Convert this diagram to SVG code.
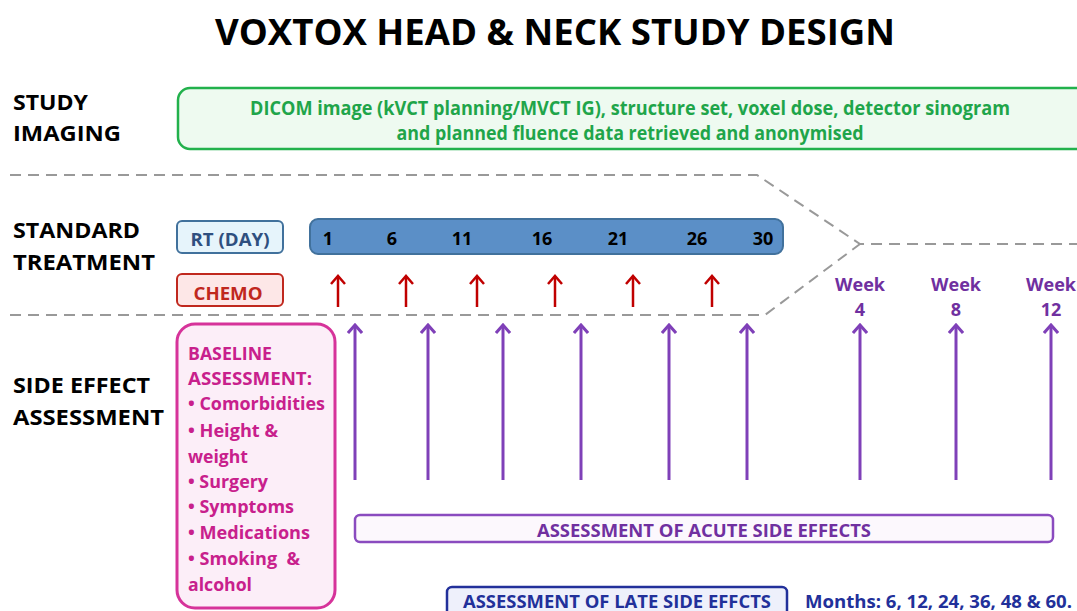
<svg xmlns="http://www.w3.org/2000/svg" width="1077" height="611" viewBox="0 0 1077 611">
<style>
text{font-family:"Open Sans",Lato,"Liberation Sans",sans-serif;font-weight:bold}
.title{font-size:36px;fill:#000}
.sec{font-size:22px;fill:#000}
.green{font-size:19px;fill:#1fa54a}
.dash{fill:none;stroke:#999;stroke-width:2;stroke-dasharray:11 7}
.num{font-size:18px;fill:#000}
.red{stroke:#c00000;stroke-width:2.5;fill:none}
.pur{stroke:#7f40b8;stroke-width:3;fill:none}
.week{font-size:18px;fill:#7030a0}
.base{font-size:18px;fill:#c8208c}
</style>
<defs>
<marker id="ra" markerUnits="userSpaceOnUse" viewBox="0 0 12 16" refX="10" refY="8" markerWidth="12" markerHeight="16" orient="auto">
<path d="M2,1 L10,8 L2,15" fill="none" stroke="#c00000" stroke-width="2.5"/>
</marker>
<marker id="pa" markerUnits="userSpaceOnUse" viewBox="0 0 12 16" refX="10" refY="8" markerWidth="12" markerHeight="16" orient="auto">
<path d="M2,1 L10,8 L2,15" fill="none" stroke="#7f40b8" stroke-width="3"/>
</marker>
</defs>
<rect width="1077" height="611" fill="#fff"/>
<text class="title" x="555" y="45" text-anchor="middle" textLength="680" lengthAdjust="spacingAndGlyphs">VOXTOX HEAD &amp; NECK STUDY DESIGN</text>

<g id="labels">
<text class="sec" x="13" y="110" textLength="75" lengthAdjust="spacingAndGlyphs">STUDY</text>
<text class="sec" x="13" y="141" textLength="108" lengthAdjust="spacingAndGlyphs">IMAGING</text>
<text class="sec" x="13" y="238" textLength="127" lengthAdjust="spacingAndGlyphs">STANDARD</text>
<text class="sec" x="13" y="270" textLength="142" lengthAdjust="spacingAndGlyphs">TREATMENT</text>
<text class="sec" x="13" y="393" textLength="137" lengthAdjust="spacingAndGlyphs">SIDE EFFECT</text>
<text class="sec" x="13" y="425" textLength="151" lengthAdjust="spacingAndGlyphs">ASSESSMENT</text>
</g>

<g id="imaging">
<rect x="178" y="88" width="920" height="61" rx="12" fill="#eefaf0" stroke="#22b14c" stroke-width="2.5"/>
<text class="green" x="630" y="115" text-anchor="middle" textLength="760" lengthAdjust="spacingAndGlyphs">DICOM image (kVCT planning/MVCT IG), structure set, voxel dose, detector sinogram</text>
<text class="green" x="630" y="140" text-anchor="middle" textLength="467" lengthAdjust="spacingAndGlyphs">and planned fluence data retrieved and anonymised</text>
</g>

<g id="dividers">
<path class="dash" d="M10,175 L757,175 L860,244 L1077,244"/>
<path class="dash" d="M10,315 L765,315 L860,244"/>
</g>

<g id="rt-label">
<rect x="177" y="221" width="106" height="32" rx="5" fill="#e6f4fb" stroke="#41719c" stroke-width="2"/>
<text x="230" y="246" text-anchor="middle" font-size="18" fill="#2f4f7f" textLength="79" lengthAdjust="spacingAndGlyphs">RT (DAY)</text>
</g>

<g id="rt-bar">
<rect x="310" y="219" width="473" height="35" rx="8" fill="#5b8fc7" stroke="#41719c" stroke-width="2"/>
<text class="num" x="328" y="245" text-anchor="middle">1</text>
<text class="num" x="392" y="245" text-anchor="middle">6</text>
<text class="num" x="462" y="245" text-anchor="middle">11</text>
<text class="num" x="542" y="245" text-anchor="middle">16</text>
<text class="num" x="618" y="245" text-anchor="middle">21</text>
<text class="num" x="697" y="245" text-anchor="middle">26</text>
<text class="num" x="763" y="245" text-anchor="middle">30</text>
</g>

<g id="chemo">
<rect x="177" y="274" width="106" height="32" rx="5" fill="#fde7e7" stroke="#c0281e" stroke-width="2"/>
<text x="228" y="300" text-anchor="middle" font-size="18" fill="#c0281e" textLength="69" lengthAdjust="spacingAndGlyphs">CHEMO</text>
</g>

<g id="weeks">
<text class="week" x="860" y="291" text-anchor="middle" textLength="50" lengthAdjust="spacingAndGlyphs">Week</text>
<text class="week" x="860" y="316" text-anchor="middle">4</text>
<text class="week" x="956" y="291" text-anchor="middle" textLength="50" lengthAdjust="spacingAndGlyphs">Week</text>
<text class="week" x="956" y="316" text-anchor="middle">8</text>
<text class="week" x="1051" y="291" text-anchor="middle" textLength="50" lengthAdjust="spacingAndGlyphs">Week</text>
<text class="week" x="1051" y="316" text-anchor="middle">12</text>
</g>

<g id="baseline">
<rect x="177" y="324" width="158" height="284" rx="18" fill="#fceef8" stroke="#d6339a" stroke-width="3"/>
<text class="base" x="188" y="360" textLength="84" lengthAdjust="spacingAndGlyphs">BASELINE</text>
<text class="base" x="188" y="385" textLength="124" lengthAdjust="spacingAndGlyphs">ASSESSMENT:</text>
<text class="base" x="188" y="410" textLength="137" lengthAdjust="spacingAndGlyphs">• Comorbidities</text>
<text class="base" x="188" y="437" textLength="90" lengthAdjust="spacingAndGlyphs">• Height &amp;</text>
<text class="base" x="188" y="463" textLength="60" lengthAdjust="spacingAndGlyphs">weight</text>
<text class="base" x="188" y="488" textLength="80" lengthAdjust="spacingAndGlyphs">• Surgery</text>
<text class="base" x="188" y="513" textLength="106" lengthAdjust="spacingAndGlyphs">• Symptoms</text>
<text class="base" x="188" y="539" textLength="122" lengthAdjust="spacingAndGlyphs">• Medications</text>
<text class="base" x="188" y="565" textLength="112" lengthAdjust="spacingAndGlyphs" xml:space="preserve">• Smoking  &amp;</text>
<text class="base" x="188" y="591" textLength="64" lengthAdjust="spacingAndGlyphs">alcohol</text>
</g>

<g id="acute">
<rect x="355" y="515" width="698" height="27" rx="5" fill="#fcf8fd" stroke="#8a4bbf" stroke-width="2.5"/>
<text x="704" y="537" text-anchor="middle" font-size="18" fill="#7030a0" textLength="334" lengthAdjust="spacingAndGlyphs">ASSESSMENT OF ACUTE SIDE EFFECTS</text>
</g>

<g id="late">
<rect x="447" y="587" width="340" height="30" rx="5" fill="#eef0fb" stroke="#22309a" stroke-width="2.5"/>
<text x="617" y="608" text-anchor="middle" font-size="18" fill="#22309a" textLength="308" lengthAdjust="spacingAndGlyphs">ASSESSMENT OF LATE SIDE EFFCTS</text>
</g>
<g id="months">
<text x="805" y="608" font-size="18" fill="#22309a" textLength="267" lengthAdjust="spacingAndGlyphs">Months: 6, 12, 24, 36, 48 &amp; 60.</text>
</g>

<g id="connectors">
<line class="red" x1="338" y1="307" x2="338" y2="276" marker-end="url(#ra)"/>
<line class="red" x1="406" y1="307" x2="406" y2="276" marker-end="url(#ra)"/>
<line class="red" x1="477" y1="307" x2="477" y2="276" marker-end="url(#ra)"/>
<line class="red" x1="555" y1="307" x2="555" y2="276" marker-end="url(#ra)"/>
<line class="red" x1="633" y1="307" x2="633" y2="276" marker-end="url(#ra)"/>
<line class="red" x1="712" y1="307" x2="712" y2="276" marker-end="url(#ra)"/>
<line class="pur" x1="355" y1="480" x2="355" y2="325" marker-end="url(#pa)"/>
<line class="pur" x1="428" y1="480" x2="428" y2="325" marker-end="url(#pa)"/>
<line class="pur" x1="503" y1="480" x2="503" y2="325" marker-end="url(#pa)"/>
<line class="pur" x1="581" y1="480" x2="581" y2="325" marker-end="url(#pa)"/>
<line class="pur" x1="669" y1="480" x2="669" y2="325" marker-end="url(#pa)"/>
<line class="pur" x1="747" y1="480" x2="747" y2="325" marker-end="url(#pa)"/>
<line class="pur" x1="860" y1="480" x2="860" y2="325" marker-end="url(#pa)"/>
<line class="pur" x1="956" y1="480" x2="956" y2="325" marker-end="url(#pa)"/>
<line class="pur" x1="1051" y1="480" x2="1051" y2="325" marker-end="url(#pa)"/>
</g>
</svg>
